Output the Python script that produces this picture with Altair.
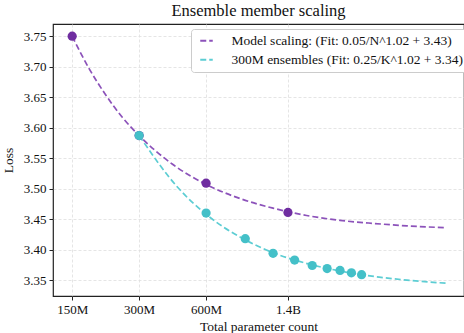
import altair as alt
import pandas as pd

# Measured points: dense models at 150M / 300M / 600M / 1.4B parameters
model_params = [150e6, 300e6, 600e6, 1.4e9]
model_loss = [3.750, 3.587, 3.509, 3.461]

# Ensembles of K 300M members (total parameters = K * 300M)
ens_members = [1, 2, 3, 4, 5, 6, 7, 8, 9, 10]
ens_loss = [3.587, 3.460, 3.418, 3.394, 3.383, 3.374, 3.369, 3.366, 3.362, 3.359]

# Fitted power-law curves (sampled along the drawn curves)
model_fit_params = [150e6, 178e6, 212e6, 252e6, 300e6, 424e6, 600e6, 849e6,
                    1.2e9, 1.697e9, 2.4e9, 3.394e9, 4.8e9, 7.2e9]
model_fit_loss = [3.750, 3.698, 3.654, 3.617, 3.587, 3.540, 3.507, 3.484,
                  3.468, 3.456, 3.448, 3.443, 3.439, 3.436]

ens_fit_members = [1, 1.5, 2, 3, 4, 6, 8, 12, 16, 24]
ens_fit_loss = [3.587, 3.501, 3.458, 3.416, 3.395, 3.375, 3.365, 3.355, 3.350, 3.345]

x_ticks = [150e6, 300e6, 600e6, 1.4e9]
x_tick_labels = ["150M", "300M", "600M", "1.4B"]
y_ticks = [3.35, 3.40, 3.45, 3.50, 3.55, 3.60, 3.65, 3.70, 3.75]

label_model = "Model scaling: (Fit: 0.05/N^1.02 + 3.43)"
label_ens = "300M ensembles (Fit: 0.25/K^1.02 + 3.34)"

member_size = 300e6

fits = pd.concat([
    pd.DataFrame({"params": model_fit_params, "loss": model_fit_loss, "series": label_model}),
    pd.DataFrame({"params": [k * member_size for k in ens_fit_members],
                  "loss": ens_fit_loss, "series": label_ens}),
])
model_pts = pd.DataFrame({"params": model_params, "loss": model_loss})
ens_pts = pd.DataFrame({"params": [k * member_size for k in ens_members], "loss": ens_loss})

FONT = "Liberation Serif"
PURPLE_PT, PURPLE_LN = "#6f2da0", "#8c52ba"
TEAL_PT, TEAL_LN = "#44c0c8", "#5ccdd3"

label_expr = " : ".join(
    f"datum.value == {v:g} ? '{t}'" for v, t in zip(x_ticks, x_tick_labels)
) + " : ''"

x_scale = alt.Scale(type="log", domain=[123e6, 8.66e9], nice=False)
y_scale = alt.Scale(domain=[3.324, 3.770], nice=False, zero=False)

x_enc = alt.X("params:Q", scale=x_scale,
              axis=alt.Axis(values=x_ticks, labelExpr=label_expr, tickCount=20,
                            title="Total parameter count"))
y_enc = alt.Y("loss:Q", scale=y_scale,
              axis=alt.Axis(values=y_ticks, tickCount=20, format=".2f", title="Loss"))

lines = alt.Chart(fits).mark_line(
    strokeDash=[6, 3], strokeWidth=1.7, interpolate="monotone"
).encode(
    x=x_enc, y=y_enc,
    color=alt.Color("series:N",
                    scale=alt.Scale(domain=[label_model, label_ens],
                                    range=[PURPLE_LN, TEAL_LN]),
                    legend=alt.Legend(
                        title=None, orient="none", legendX=138, legendY=5,
                        symbolType="M-0.5,0L2,0", symbolSize=100,
                        symbolStrokeWidth=1.8, symbolDash=[6, 3],
                        labelFont=FONT, labelFontSize=13.5, labelColor="#111",
                        labelLimit=0, labelOffset=22, rowPadding=4,
                        fillColor="white", strokeColor="#cccccc",
                        cornerRadius=3, padding=5)),
)

model_dots = alt.Chart(model_pts).mark_circle(size=85, opacity=1, color=PURPLE_PT).encode(
    x="params:Q", y="loss:Q")
ens_dots = alt.Chart(ens_pts).mark_circle(size=85, opacity=1, color=TEAL_PT).encode(
    x="params:Q", y="loss:Q")

chart = alt.layer(lines, model_dots, ens_dots).properties(
    width=411, height=272,
    title=alt.TitleParams("Ensemble member scaling", font=FONT, fontSize=16.5,
                          fontWeight="normal", color="#111", offset=5),
    padding={"left": 53, "top": 24, "right": 0, "bottom": 37},
    autosize=alt.AutoSizeParams(type="none"),
).configure_view(
    stroke="#222", strokeWidth=1.2
).configure_axis(
    labelFont=FONT, titleFont=FONT, labelFontSize=13, titleFontSize=13.5,
    labelColor="#111", titleColor="#111", titleFontWeight="normal",
    domain=False, tickColor="#222", tickSize=4, tickWidth=1,
    grid=True, gridColor="#dedede", gridDash=[3, 2], gridWidth=0.8,
    labelPadding=3, labelOverlap=False,
).configure_axisY(
    titlePadding=8
).configure_axisX(
    titlePadding=3
)

chart.save("out.html", embed_options={"renderer": "svg", "actions": False})
